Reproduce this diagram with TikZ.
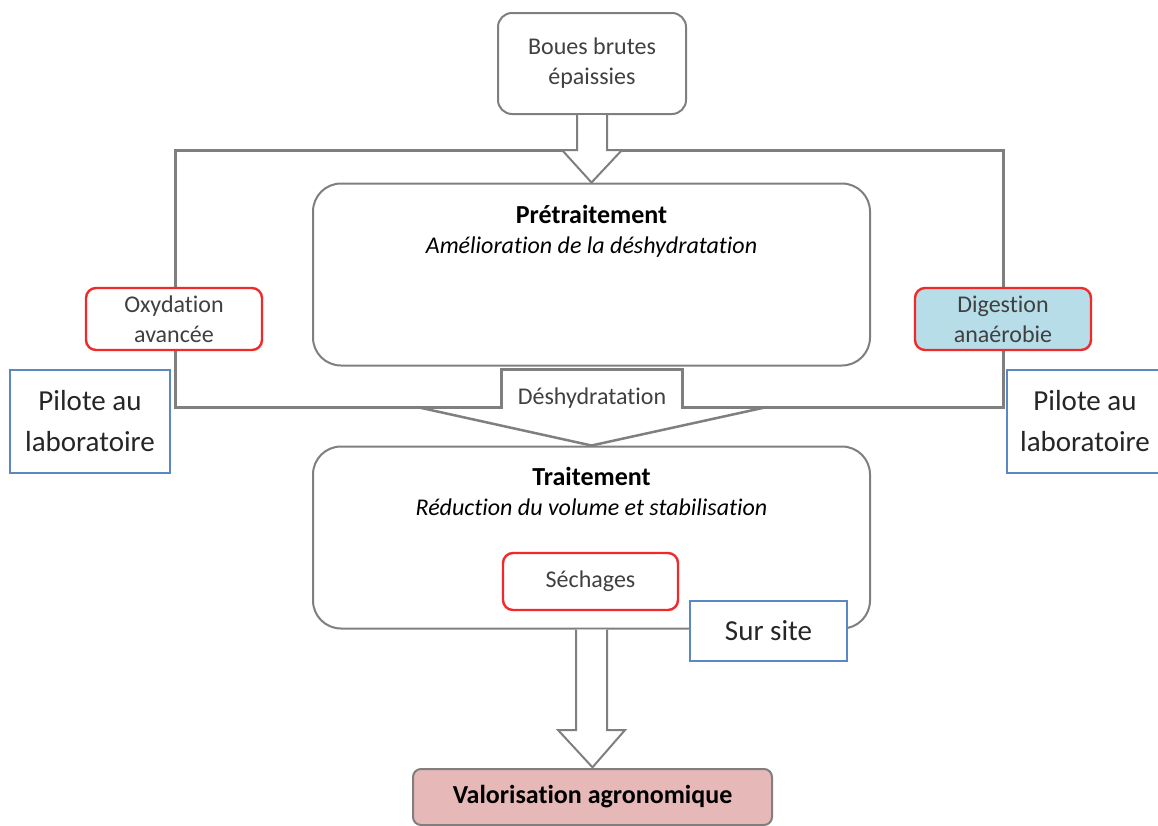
\documentclass[tikz,border=0pt]{standalone}
\usepackage{fontspec}
\setmainfont{Carlito}[Ligatures={NoCommon,NoContextual}]
\usepackage{tikz}
\usetikzlibrary{calc}
\definecolor{linegray}{HTML}{7F7F7F}
\definecolor{boxred}{HTML}{F02A2A}
\definecolor{boxblue}{HTML}{5B87C5}
\definecolor{digfill}{HTML}{B7DDE8}
\definecolor{valfill}{HTML}{E6B8B7}
\definecolor{txtgray}{HTML}{404040}
\newcommand{\mainsize}{\fontsize{24}{30}\selectfont}
\newcommand{\titlesize}{\fontsize{26}{30}\selectfont}
\newcommand{\bigsize}{\fontsize{29}{41}\selectfont}
\tikzset{
    graybox/.style={rectangle, rounded corners=14pt, draw=linegray, line width=2pt, fill=white, align=center, font=\mainsize, text=txtgray, inner sep=0pt},
    stagebox/.style={graybox, rounded corners=28pt, minimum width=557pt, minimum height=182pt},
    stagetxt/.style={anchor=north, align=center, font=\mainsize, text=black, inner sep=0pt},
    methodbox/.style={rectangle, rounded corners=10pt, draw=boxred, line width=2.4pt, fill=white, minimum width=176pt, minimum height=62pt, align=center, font=\mainsize, text=txtgray, inner sep=0pt},
    sitebox/.style={rectangle, draw=boxblue, line width=2pt, fill=white, align=center, font=\bigsize, text=black!85, inner sep=0pt},
    blockarrow/.style={draw=linegray, line width=2pt, fill=white, line join=miter},
    frameline/.style={draw=linegray, line width=3pt, line join=miter}
}

\begin{document}
\begin{tikzpicture}[x=1pt, y=-1pt]
  \useasboundingbox (0,0) rectangle (1158,825);
  % boues en entree
  \node[graybox, minimum width=188pt, minimum height=101pt] (boues) at (592,63.5) {Boues brutes\\épaissies};
  % etapes
  \node[stagebox] (pretr) at (591.5,274.5) {};
  \node[stagetxt] (pretrtxt) at (591.5,205) {{\titlesize\bfseries Prétraitement}\\\textit{Amélioration de la déshydratation}};
  \node[stagebox] (trait) at (591.5,537.5) {};
  \node[stagetxt] (traittxt) at (591.5,467) {{\titlesize\bfseries Traitement}\\\textit{Réduction du volume et stabilisation}};
  \node[anchor=south, minimum width=180pt, text height=35pt, text depth=2pt, inner sep=0pt, font=\mainsize, text=txtgray] (deshy) at (592,407) {Déshydratation};
  % cadre du pretraitement
  \coordinate (fTL) at (175,150);
  \coordinate (fTR) at (1003,150);
  \coordinate (fBL) at (175,407);
  \coordinate (fBR) at (1003,407);
  \coordinate (hdL) at (562,150);
  \coordinate (hdR) at (622,150);
  \coordinate (hL) at (417,407);
  \coordinate (hR) at (767,407);
  \draw[frameline] (hdL) -- (fTL) -- (fBL) -- (deshy.south west) -- (deshy.north west) -- (deshy.north east) -- (deshy.south east) -- (fBR) -- (fTR) -- (hdR);
  \draw[frameline, line width=2.5pt] (hL) -- (trait.north) -- (hR);
  % fleches
  \draw[blockarrow] ($(boues.south)+(-15,0)$) -- (577,150) -- (hdL) -- (pretr.north) -- (hdR) -- (607,150) -- ($(boues.south)+(15,0)$);
  \draw[blockarrow] ($(trait.south)+(-15.5,0)$) -- (576,730) -- (558,730) -- ($(trait.south)!0.995!(592.5,768)$) -- (625,730) -- (607,730) -- ($(trait.south)+(15.5,0)$);
  % procedes
  \node[methodbox] (oxyd) at (174,319) {Oxydation\\avancée};
  \node[methodbox, fill=digfill] (dig) at (1003,319) {Digestion\\anaérobie};
  \node[methodbox, minimum width=175pt, minimum height=57pt] (sech) at (590.5,581.5) {Séchages};
  % echelle
  \node[sitebox, minimum width=160pt, minimum height=103pt] (piloteL) at (90,421.5) {Pilote au\\laboratoire};
  \node[sitebox, minimum width=156pt, minimum height=103pt] (piloteR) at (1085,421.5) {Pilote au\\laboratoire};
  \node[sitebox, minimum width=157pt, minimum height=60pt] (site) at (768.5,631) {Sur site};
  % sortie
  \node[graybox, rounded corners=8pt, fill=valfill, minimum width=359pt, minimum height=56pt, font=\titlesize\bfseries, text=black] (valo) at (592.5,797) {Valorisation agronomique};
\end{tikzpicture}
\end{document}
